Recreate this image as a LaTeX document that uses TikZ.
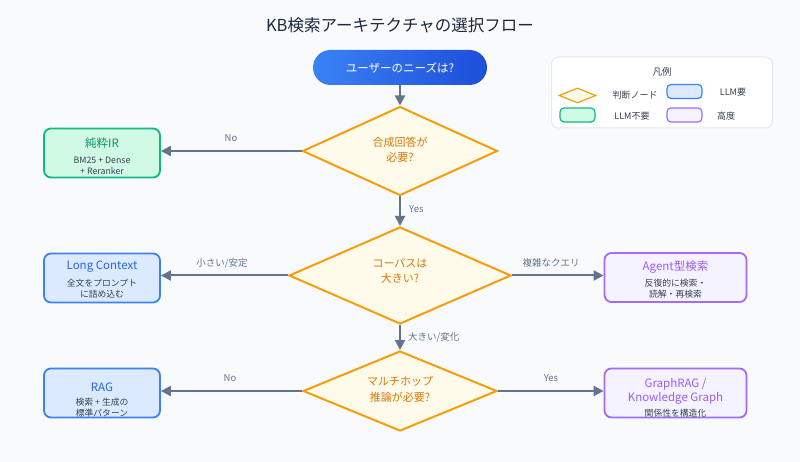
\documentclass[tikz,border=0pt]{standalone}
\usepackage{fontspec}
\setmainfont{Noto Sans CJK JP}
\usetikzlibrary{shapes.geometric,arrows.meta}
\definecolor{bgc}{HTML}{F8FAFC}
\definecolor{slate}{HTML}{64748B}
\definecolor{titlec}{HTML}{1E293B}
\definecolor{amber}{HTML}{F59E0B}
\definecolor{cream}{HTML}{FFFBEB}
\definecolor{dectext}{HTML}{D97706}
\definecolor{gfill}{HTML}{D1FAE5}
\definecolor{gdraw}{HTML}{10B981}
\definecolor{gtext}{HTML}{059669}
\definecolor{bfill}{HTML}{DBEAFE}
\definecolor{bdraw}{HTML}{3B82F6}
\definecolor{btext}{HTML}{2563EB}
\definecolor{pfill}{HTML}{F5F3FF}
\definecolor{pdraw}{HTML}{A16CF7}
\definecolor{ptext}{HTML}{9B5CF6}
\definecolor{subc}{HTML}{374151}
\definecolor{legdraw}{HTML}{E2E8F0}
\definecolor{pillL}{HTML}{3B82F6}
\definecolor{pillR}{HTML}{1D4ED8}
\tikzset{
  edge/.style={draw=slate, line width=2pt, -{Triangle[length=10pt,width=10pt]}},
  elabel/.style={text=slate, font=\fontsize{9.5}{11}\selectfont, inner sep=0pt},
  dec/.style={diamond, draw=amber, fill=cream, line width=2pt, inner sep=0pt, aspect=2},
  dectxt/.style={text=dectext, font=\fontsize{11}{15}\selectfont, align=center, inner sep=0pt},
  boxbase/.style={rounded corners=7pt, line width=1.8pt, minimum width=116pt, minimum height=49pt, inner sep=0pt},
  gbox/.style={boxbase, draw=gdraw, fill=gfill},
  bbox/.style={boxbase, draw=bdraw, fill=bfill},
  pbox/.style={boxbase, draw=pdraw, fill=pfill, minimum width=142pt},
  ttl/.style={font=\fontsize{11.5}{14}\selectfont, inner sep=0pt, align=center},
  sub/.style={text=subc, font=\fontsize{8.8}{11}\selectfont, inner sep=0pt, align=center},
  legtxt/.style={text=subc, font=\fontsize{9}{11}\selectfont, inner sep=0pt},
  legbox/.style={rounded corners=4pt, line width=1.2pt, minimum width=35pt, minimum height=14pt, inner sep=0pt},
}
\begin{document}
\begin{tikzpicture}[x=1pt,y=-1pt]
\useasboundingbox (0,0) rectangle (800,462);
\fill[bgc] (0,0) rectangle (800,462);
% title
\node[text=titlec, font=\fontsize{16.5}{20}\selectfont, inner sep=0pt] (title) at (400,25) {KB検索アーキテクチャの選択フロー};
% start pill
\node[rounded corners=17.5pt, left color=pillL, right color=pillR, minimum width=174pt, minimum height=35pt, inner sep=0pt, text=white, font=\fontsize{11.5}{14}\selectfont] (start) at (400,67.5) {ユーザーのニーズは?};
% decisions
\node[dec, minimum width=195pt, minimum height=89pt] (d1) at (400,151) {};
\node[dectxt] (d1t) at (400,149.5) {合成回答が\\必要?};
\node[dec, minimum width=222pt, minimum height=97pt] (d2) at (400,275.5) {};
\node[dectxt] (d2t) at (400,270.5) {コーパスは\\大きい?};
\node[dec, minimum width=194pt, minimum height=80pt] (d3) at (400,391) {};
\node[dectxt, font=\fontsize{11}{16}\selectfont] (d3t) at (400,389) {マルチホップ\\推論が必要?};
% boxes
\node[gbox] (ir) at (102,153) {};
\node[ttl, text=gtext] (irt) at (102,143) {純粋IR};
\node[sub] (irs) at (102,165.5) {BM25 + Dense\\+ Reranker};
\node[bbox] (lc) at (102,278) {};
\node[ttl, text=btext] (lct) at (102,267) {Long Context};
\node[sub] (lcs) at (102,288.5) {全文をプロンプト\\に詰め込む};
\node[pbox] (ag) at (675.5,277.5) {};
\node[ttl, text=ptext] (agt) at (675.5,267) {Agent型検索};
\node[sub] (ags) at (675.5,288.5) {反復的に検索・\\読解・再検索};
\node[bbox] (rag) at (102,393) {};
\node[ttl, text=btext] (ragt) at (102,387) {RAG};
\node[sub] (rags) at (102,407.5) {検索 + 生成の\\標準パターン};
\node[pbox] (gr) at (675.5,393) {};
\node[ttl, text=ptext] (grt) at (675.5,391) {GraphRAG /\\Knowledge Graph};
\node[sub] (grs) at (675.5,413) {関係性を構造化};
% edges
\draw[edge] (start.south) -- (d1.north);
\draw[edge] (d1.west) -- (d1.west -| ir.east);
\draw[edge] (d1.south) -- (d2.north);
\draw[edge] (d2.west) -- (d2.west -| lc.east);
\draw[edge] (d2.east) -- (d2.east -| ag.west);
\draw[edge] (d2.south) -- (d3.north);
\draw[edge] (d3.west) -- (d3.west -| rag.east);
\draw[edge] (d3.east) -- (d3.east -| gr.west);
% edge labels
\node[elabel] (l1) at (231,138) {No};
\node[elabel, anchor=west] (l2) at (409,209) {Yes};
\node[elabel] (l3) at (222,263) {小さい/安定};
\node[elabel] (l4) at (551,263) {複雑なクエリ};
\node[elabel, anchor=west] (l5) at (408,337) {大きい/変化};
\node[elabel] (l6) at (230,378) {No};
\node[elabel] (l7) at (551,378) {Yes};
% legend
\node[draw=legdraw, fill=white, rounded corners=7pt, line width=1pt, minimum width=221pt, minimum height=71pt, inner sep=0pt] (leg) at (662,92.5) {};
\node[text=subc, font=\fontsize{9.5}{11}\selectfont, inner sep=0pt] (legt) at (662,72) {凡例};
\node[diamond, draw=amber, fill=cream, line width=1.2pt, inner sep=0pt, minimum width=37pt, minimum height=15pt] (legd) at (577.5,95.5) {};
\node[legtxt] (legdt) at (635,95.5) {判断ノード};
\node[legbox, draw=bdraw, fill=bfill] (legb) at (684.5,91.5) {};
\node[legtxt] (legbt) at (733,92) {LLM要};
\node[legbox, draw=gdraw, fill=gfill] (legg) at (577.5,115) {};
\node[legtxt] (leggt) at (632,116) {LLM不要};
\node[legbox, draw=pdraw, fill=pfill] (legp) at (684.5,115) {};
\node[legtxt] (legpt) at (726,116) {高度};
\end{tikzpicture}
\end{document}
